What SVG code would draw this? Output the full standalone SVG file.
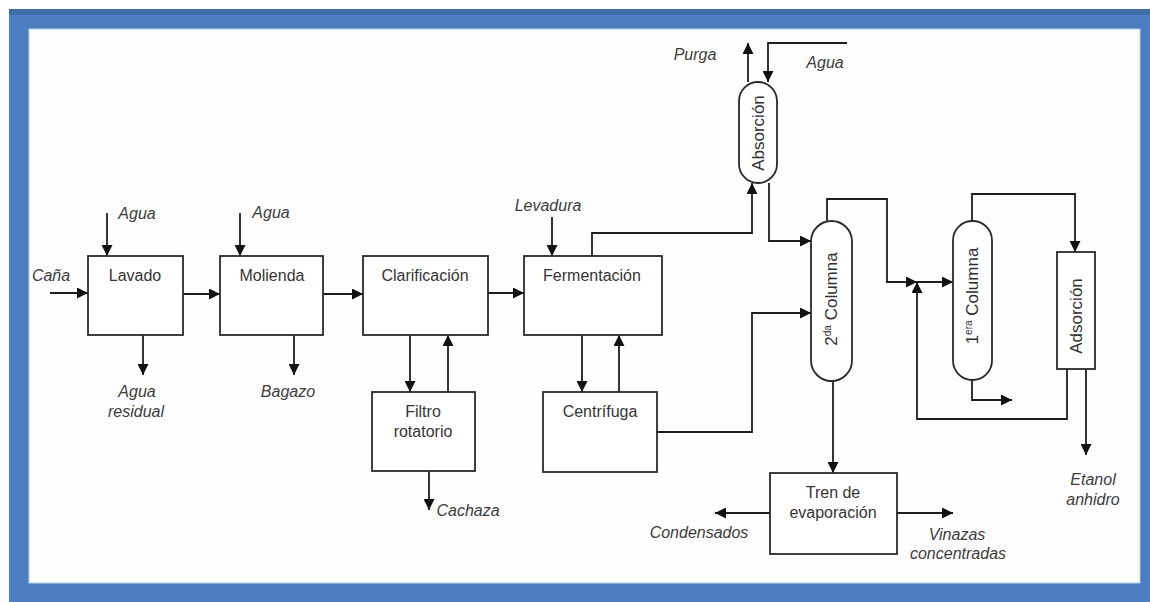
<svg xmlns="http://www.w3.org/2000/svg" width="1150" height="602" viewBox="0 0 1150 602">
  <style>
    .box { fill: #fff; stroke: #2a2a2a; stroke-width: 1.8; }
    .flow { fill: none; stroke: #1e1e1e; stroke-width: 1.8; }
    .lbl { font-family: "Liberation Sans", Arial, sans-serif; font-size: 16px; fill: #353535; text-anchor: middle; }
    .vlbl { font-family: "Liberation Sans", Arial, sans-serif; font-size: 17px; fill: #2e2e2e; text-anchor: middle; }
    .str { font-family: "Liberation Sans", Arial, sans-serif; font-size: 16px; font-style: italic; fill: #3c3c3c; text-anchor: middle; }
    .sup { font-size: 10px; }
  </style>
  <defs>
    <marker id="arrow" viewBox="0 0 10 10" refX="10" refY="5" markerWidth="12" markerHeight="11" markerUnits="userSpaceOnUse" orient="auto">
      <path d="M0,0 L10,5 L0,10 Z" fill="#111"/>
    </marker>
  </defs>

  <!-- frame -->
  <rect x="9" y="9" width="1141" height="593" fill="#4a7dc2"/>
  <rect x="9" y="9" width="1141" height="6" fill="#3f6dac"/>
  <rect x="29" y="29" width="1111" height="554" fill="#fdfdfd" stroke="#b9d3f0" stroke-width="1"/>

  <!-- connectors -->
  <g id="connectors">
    <path class="flow" marker-end="url(#arrow)" d="M50,293 H88"/>
    <path class="flow" marker-end="url(#arrow)" d="M107,213 V256"/>
    <path class="flow" marker-end="url(#arrow)" d="M143,335 V375"/>
    <path class="flow" marker-end="url(#arrow)" d="M183,294 H220"/>
    <path class="flow" marker-end="url(#arrow)" d="M240,213 V256"/>
    <path class="flow" marker-end="url(#arrow)" d="M294,335 V375"/>
    <path class="flow" marker-end="url(#arrow)" d="M323,294 H363"/>
    <path class="flow" marker-end="url(#arrow)" d="M410,335 V392"/>
    <path class="flow" marker-end="url(#arrow)" d="M448,392 V335"/>
    <path class="flow" marker-end="url(#arrow)" d="M429,471 V510"/>
    <path class="flow" marker-end="url(#arrow)" d="M488,293 H524"/>
    <path class="flow" marker-end="url(#arrow)" d="M552,217 V256"/>
    <path class="flow" marker-end="url(#arrow)" d="M582,335 V392"/>
    <path class="flow" marker-end="url(#arrow)" d="M619,392 V335"/>
    <path class="flow" marker-end="url(#arrow)" d="M592,256 V233 H752 V183"/>
    <path class="flow" marker-end="url(#arrow)" d="M657,432 H752 V313 H811"/>
    <path class="flow" marker-end="url(#arrow)" d="M748,82 V43"/>
    <path class="flow" marker-end="url(#arrow)" d="M847,43 H768 V82"/>
    <path class="flow" marker-end="url(#arrow)" d="M769,183 V241 H811"/>
    <path class="flow" marker-end="url(#arrow)" d="M827,221 V199 H887 V282 H917"/>
    <path class="flow" marker-end="url(#arrow)" d="M917,282 H953"/>
    <path class="flow" marker-end="url(#arrow)" d="M1067,369 V419 H917 V282"/>
    <path class="flow" marker-end="url(#arrow)" d="M972,221 V194 H1075 V252"/>
    <path class="flow" marker-end="url(#arrow)" d="M972,380 V400 H1012"/>
    <path class="flow" marker-end="url(#arrow)" d="M1086,369 V455"/>
    <path class="flow" marker-end="url(#arrow)" d="M833,381 V473"/>
    <path class="flow" marker-end="url(#arrow)" d="M770,513 H715"/>
    <path class="flow" marker-end="url(#arrow)" d="M897,513 H953"/>
  </g>

  <!-- process units -->
  <g id="lavado">
    <rect class="box" x="88" y="256" width="95" height="79"/>
    <text class="lbl" x="135" y="281">Lavado</text>
  </g>
  <g id="molienda">
    <rect class="box" x="220" y="256" width="103" height="79"/>
    <text class="lbl" x="272" y="281">Molienda</text>
  </g>
  <g id="clarificacion">
    <rect class="box" x="363" y="256" width="125" height="79"/>
    <text class="lbl" x="425" y="281">Clarificación</text>
  </g>
  <g id="filtro">
    <rect class="box" x="372" y="392" width="103" height="79"/>
    <text class="lbl" x="423" y="417">Filtro</text>
    <text class="lbl" x="423" y="437">rotatorio</text>
  </g>
  <g id="fermentacion">
    <rect class="box" x="524" y="256" width="138" height="79"/>
    <text class="lbl" x="592" y="281">Fermentación</text>
  </g>
  <g id="centrifuga">
    <rect class="box" x="543" y="392" width="114" height="80"/>
    <text class="lbl" x="600" y="417">Centrífuga</text>
  </g>
  <g id="absorcion">
    <rect class="box" x="739" y="82" width="38" height="101" rx="19" ry="19"/>
    <text class="vlbl" transform="translate(764,133) rotate(-90)" x="0" y="0">Absorción</text>
  </g>
  <g id="columna2">
    <rect class="box" x="811" y="221" width="41" height="160" rx="20.5" ry="20.5"/>
    <text class="vlbl" transform="translate(837,299) rotate(-90)" x="0" y="0">2<tspan class="sup" dy="-6">da</tspan><tspan dy="6"> Columna</tspan></text>
  </g>
  <g id="columna1">
    <rect class="box" x="953" y="221" width="39" height="159" rx="19.5" ry="19.5"/>
    <text class="vlbl" transform="translate(978,296) rotate(-90)" x="0" y="0">1<tspan class="sup" dy="-6">era</tspan><tspan dy="6"> Columna</tspan></text>
  </g>
  <g id="adsorcion">
    <rect class="box" x="1057" y="252" width="38" height="117"/>
    <text class="vlbl" transform="translate(1082,316) rotate(-90)" x="0" y="0">Adsorción</text>
  </g>
  <g id="evaporacion">
    <rect class="box" x="770" y="473" width="127" height="81"/>
    <text class="lbl" x="833" y="498">Tren de</text>
    <text class="lbl" x="833" y="518">evaporación</text>
  </g>

  <!-- stream labels -->
  <g id="streams">
    <text class="str" x="51" y="281">Caña</text>
    <text class="str" x="137" y="219">Agua</text>
    <text class="str" x="271" y="218">Agua</text>
    <text class="str" x="137" y="397">Agua</text>
    <text class="str" x="136" y="417">residual</text>
    <text class="str" x="288" y="397">Bagazo</text>
    <text class="str" x="468" y="516">Cachaza</text>
    <text class="str" x="548" y="211">Levadura</text>
    <text class="str" x="695" y="60">Purga</text>
    <text class="str" x="825" y="68">Agua</text>
    <text class="str" x="699" y="538">Condensados</text>
    <text class="str" x="957" y="540">Vinazas</text>
    <text class="str" x="958" y="559">concentradas</text>
    <text class="str" x="1093" y="485">Etanol</text>
    <text class="str" x="1093" y="505">anhidro</text>
  </g>
</svg>
